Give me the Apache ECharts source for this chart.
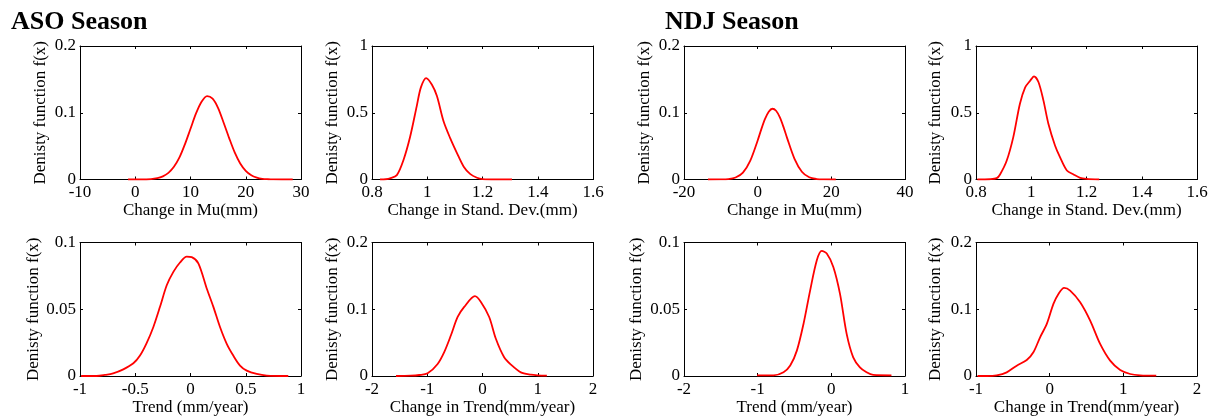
<!DOCTYPE html>
<html>
<head>
<meta charset="utf-8">
<script src="https://cdn.jsdelivr.net/npm/echarts@6/dist/echarts.min.js"></script>
<style>html,body{margin:0;padding:0;background:#fff}#c{width:1219px;height:419px}</style>
</head>
<body>
<div id="c"></div>
<script>
// ---- data ----
const seasonTitles = ['ASO Season', 'NDJ Season'];
const yName = 'Denisty function f(x)';
const xNames = ['Change in Mu(mm)', 'Change in Stand. Dev.(mm)', 'Change in Mu(mm)', 'Change in Stand. Dev.(mm)',
                'Trend (mm/year)', 'Change in Trend(mm/year)', 'Trend (mm/year)', 'Change in Trend(mm/year)'];
const xTicks = [[-10,0,10,20,30],[0.8,1,1.2,1.4,1.6],[-20,0,20,40],[0.8,1,1.2,1.4,1.6],
                [-1,-0.5,0,0.5,1],[-2,-1,0,1,2],[-2,-1,0,1],[-1,0,1,2]];
const yTicks = [[0,0.1,0.2],[0,0.5,1],[0,0.1,0.2],[0,0.5,1],
                [0,0.05,0.1],[0,0.1,0.2],[0,0.05,0.1],[0,0.1,0.2]];

const asoMuX = [-1.3, 2, 4, 5, 6, 7, 8, 9, 10, 11, 12, 13, 14, 15, 16, 17, 18, 19, 20, 21, 22, 23, 24, 25, 28.5];
const asoMuY = [0, 0, 0.002, 0.0047, 0.0099, 0.019, 0.033, 0.053, 0.076, 0.099, 0.1165, 0.125, 0.121, 0.107, 0.085, 0.062, 0.0406, 0.024, 0.013, 0.0064, 0.0029, 0.0011, 0.0004, 0.0001, 0];

const asoSdX = [0.829, 0.85, 0.865, 0.89, 0.914, 0.938, 0.962, 0.977, 0.996, 1.017, 1.035, 1.059, 1.083, 1.108, 1.132, 1.156, 1.18, 1.2, 1.25, 1.307];
const asoSdY = [0, 0.002, 0.008, 0.033, 0.146, 0.32, 0.55, 0.69, 0.76, 0.71, 0.625, 0.436, 0.31, 0.196, 0.096, 0.04, 0.013, 0.003, 0, 0];

const ndjMuX = [-13.5, -10, -8, -6, -4, -2, 0, 1, 2, 3, 4, 5, 6, 7, 8, 10, 12, 14, 16, 18, 21.2];
const ndjMuY = [0, 0.0001, 0.0006, 0.003, 0.0104, 0.0284, 0.0585, 0.0755, 0.0907, 0.1016, 0.106, 0.103, 0.0933, 0.0788, 0.062, 0.031, 0.0117, 0.0033, 0.0007, 0.0001, 0];

const ndjSdX = [0.805, 0.85, 0.875, 0.887, 0.911, 0.935, 0.959, 0.978, 0.996, 1.01, 1.026, 1.044, 1.062, 1.086, 1.104, 1.129, 1.153, 1.177, 1.2, 1.246];
const ndjSdY = [0, 0.002, 0.01, 0.0375, 0.14, 0.3175, 0.5675, 0.69, 0.74, 0.7725, 0.73, 0.5925, 0.4175, 0.255, 0.1675, 0.0675, 0.0375, 0.0125, 0.005, 0];

const asoTrendX = [-0.99, -0.85, -0.774, -0.7, -0.608, -0.517, -0.457, -0.397, -0.336, -0.276, -0.215, -0.155, -0.095, -0.034, 0.011, 0.071, 0.147, 0.207, 0.267, 0.328, 0.387, 0.448, 0.509, 0.599, 0.69, 0.885];
const asoTrendY = [0, 0, 0.0008, 0.002, 0.005, 0.0095, 0.0153, 0.0246, 0.0367, 0.0518, 0.068, 0.078, 0.085, 0.0894, 0.089, 0.0844, 0.0656, 0.0518, 0.0367, 0.0241, 0.0153, 0.0078, 0.004, 0.0015, 0.0003, 0];

const asoCtX = [-1.566, -1.3, -1.145, -0.993, -0.812, -0.693, -0.571, -0.45, -0.331, -0.137, -0.029, 0.121, 0.242, 0.392, 0.514, 0.694, 0.875, 0.996, 1.165];
const asoCtY = [0, 0.0005, 0.0015, 0.004, 0.018, 0.0357, 0.061, 0.0884, 0.1035, 0.1196, 0.111, 0.0884, 0.0558, 0.0281, 0.017, 0.0055, 0.002, 0.001, 0.0005];

const ndjTrendX = [-1.008, -0.9, -0.784, -0.649, -0.558, -0.468, -0.378, -0.288, -0.197, -0.13, -0.062, 0.027, 0.117, 0.208, 0.297, 0.388, 0.478, 0.568, 0.816];
const ndjTrendY = [0.0005, 0.0005, 0.0005, 0.0028, 0.0078, 0.019, 0.039, 0.064, 0.0867, 0.0937, 0.0917, 0.0817, 0.0617, 0.0316, 0.014, 0.0065, 0.0028, 0.0008, 0.0005];

const ndjCtX = [-0.98, -0.85, -0.719, -0.583, -0.447, -0.311, -0.221, -0.13, -0.039, 0.051, 0.119, 0.196, 0.278, 0.414, 0.55, 0.685, 0.821, 0.957, 1.093, 1.229, 1.447];
const ndjCtY = [0, 0, 0.001, 0.0055, 0.0155, 0.024, 0.0355, 0.058, 0.078, 0.108, 0.123, 0.132, 0.128, 0.1105, 0.083, 0.048, 0.023, 0.009, 0.003, 0.001, 0.0005];

const curvesX = [asoMuX, asoSdX, ndjMuX, ndjSdX, asoTrendX, asoCtX, ndjTrendX, ndjCtX];
const curvesY = [asoMuY, asoSdY, ndjMuY, ndjSdY, asoTrendY, asoCtY, ndjTrendY, ndjCtY];

// ---- layout ----
const FONT = 'Liberation Serif';
const colLeft = [80, 372, 684, 976];
const rowTop = [46, 242.5];
const gW = 221, gH = 133.5;
const yNameGap = [31, 31, 31, 32, 38, 31, 39, 32];

const grid = [], xAxis = [], yAxis = [], series = [];
for (let i = 0; i < 8; i++) {
  const col = i % 4, row = Math.floor(i / 4);
  grid.push({left: colLeft[col], top: rowTop[row], width: gW, height: gH, containLabel: false});
  const xt = xTicks[i], yt = yTicks[i];
  const xmin = xt[0], xmax = xt[xt.length - 1], xint = xt[1] - xt[0];
  const ymin = yt[0], ymax = yt[yt.length - 1], yint = yt[1] - yt[0];
  const line = {show: true, onZero: false, lineStyle: {color: '#000', width: 1}};
  const tick = {show: true, inside: true, length: 3, lineStyle: {color: '#000', width: 1}};
  const lbl = {color: '#000', fontFamily: FONT, fontSize: 17};
  xAxis.push({
    type: 'value', gridIndex: i, position: 'bottom', min: xmin, max: xmax, interval: xint,
    axisLine: line, axisTick: tick, splitLine: {show: false},
    axisLabel: Object.assign({margin: 5, showMinLabel: true, showMaxLabel: true}, lbl),
    name: xNames[i], nameLocation: 'middle', nameGap: 22,
    nameTextStyle: {color: '#000', fontFamily: FONT, fontSize: 17}
  });
  xAxis.push({
    type: 'value', gridIndex: i, position: 'top', min: xmin, max: xmax, interval: xint,
    axisLine: line, axisTick: tick, splitLine: {show: false}, axisLabel: {show: false}
  });
  yAxis.push({
    type: 'value', gridIndex: i, position: 'left', min: ymin, max: ymax, interval: yint,
    axisLine: line, axisTick: tick, splitLine: {show: false},
    axisLabel: Object.assign({margin: 4, showMinLabel: true, showMaxLabel: true}, lbl),
    name: yName, nameLocation: 'middle', nameGap: yNameGap[i], nameRotate: 90,
    nameTextStyle: {color: '#000', fontFamily: FONT, fontSize: 17}
  });
  yAxis.push({
    type: 'value', gridIndex: i, position: 'right', min: ymin, max: ymax, interval: yint,
    axisLine: line, axisTick: tick, splitLine: {show: false}, axisLabel: {show: false}
  });
  series.push({
    type: 'line', xAxisIndex: 2 * i, yAxisIndex: 2 * i,
    data: curvesX[i].map((x, k) => [x, curvesY[i][k]]),
    showSymbol: false, smooth: 0.3, silent: true,
    lineStyle: {color: '#ff0000', width: 1.8}
  });
}

const chart = echarts.init(document.getElementById('c'), null, {renderer: 'canvas'});
chart.setOption({
  backgroundColor: '#fff',
  animation: false,
  title: [
    {text: seasonTitles[0], left: 6, top: 4, textStyle: {fontFamily: FONT, fontSize: 26, fontWeight: 'bold', color: '#000'}},
    {text: seasonTitles[1], left: 660, top: 4, textStyle: {fontFamily: FONT, fontSize: 26, fontWeight: 'bold', color: '#000'}}
  ],
  grid, xAxis, yAxis, series
});
</script>
</body>
</html>
